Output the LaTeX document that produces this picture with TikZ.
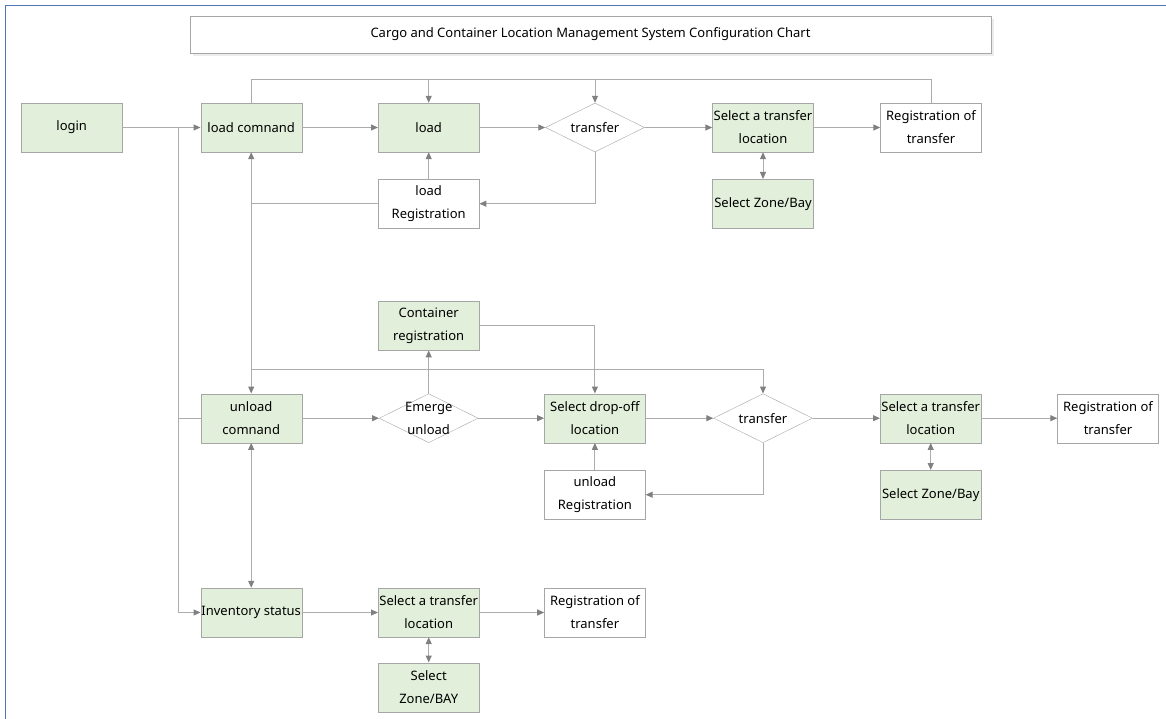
\documentclass[tikz,border=0pt]{standalone}
\usepackage{fontspec}
\setmainfont{Noto Sans}
\usetikzlibrary{arrows.meta,shapes.geometric,shadows}
\definecolor{boxgreen}{RGB}{226,239,218}
\definecolor{boxline}{RGB}{166,166,166}
\definecolor{wiregray}{RGB}{172,172,172}
\definecolor{tipgray}{RGB}{128,128,128}
\definecolor{frameblue}{RGB}{79,118,176}
\newcommand\chartfont{\fontsize{13}{23}\selectfont}
\tikzset{
    block/.style={
           rectangle,
           draw=boxline, fill=boxgreen,
           minimum width=101pt, minimum height=49pt,
           inner sep=0.5pt,
           align=center,
           font=\chartfont,
           },
    plainblock/.style={block, fill=white},
    choice/.style={
           diamond,
           draw=boxline, fill=white,
           minimum width=99pt, minimum height=49pt,
           inner sep=0pt,
           label={[font=\chartfont, align=center]center:#1},
           },
    wire/.style={draw=wiregray, line width=1pt},
}

\begin{document}
\begin{tikzpicture}[x=1pt, y=-1pt, >={Triangle[length=7pt,width=6pt,color=tipgray]}]
\useasboundingbox (0,0) rectangle (1166,719);
\draw[frameblue, line width=1.2pt] (5.3,719) -- (5.3,5.3) -- (1166,5.3);
\node[draw=boxline, fill=white, minimum width=801pt, minimum height=37pt,
      drop shadow={shadow xshift=3pt, shadow yshift=-3pt, opacity=0.15},
      font=\fontsize{13}{15}\selectfont] (title) at (590.5,34.5)
      {Cargo and Container Location Management System Configuration Chart};
\node[block] (login) at (71.7,127.5) {login};
\node[block] (lcmd) at (251.2,127.5) {load comnand};
\node[block] (load) at (428.7,127.5) {load};
\node[choice=transfer] (tr1) at (595,127.5) {};
\node[block] (sel1) at (763,127.5) {Select a transfer\\location};
\node[plainblock] (reg1) at (931,127.5) {Registration of\\transfer};
\node[plainblock] (lreg) at (428.7,203.7) {load\\Registration};
\node[block] (zone1) at (763,203.7) {Select Zone/Bay};
\node[block] (creg) at (428.7,325.7) {Container\\registration};
\node[block] (ucmd) at (251.2,418.2) {unload\\comnand};
\node[choice={Emerge\\unload}] (emg) at (428.7,418.2) {};
\node[block] (drop) at (594.9,418.2) {Select drop-off\\location};
\node[choice=transfer] (tr2) at (763,418.2) {};
\node[block] (sel2) at (930.7,418.2) {Select a transfer\\location};
\node[plainblock] (reg2) at (1108,418.2) {Registration of\\transfer};
\node[plainblock] (ureg) at (594.9,494.7) {unload\\Registration};
\node[block] (zone2) at (930.7,494.7) {Select Zone/Bay};
\node[block] (inv) at (251.2,612.5) {Inventory status};
\node[block] (sel3) at (428.7,612.5) {Select a transfer\\location};
\node[plainblock] (reg3) at (594.9,612.5) {Registration of\\transfer};
\node[block] (zone3) at (428.7,687.2) {Select\\Zone/BAY};
\coordinate (bus) at (178.3,127.5);
\coordinate (loop) at (0,79.3);
\coordinate (mid) at (0,369.3);
\path (login) edge[wire,->] (lcmd)
      (lcmd) edge[wire,->] (load)
      (load) edge[wire,->] (tr1)
      (tr1) edge[wire,->] (sel1)
      (sel1) edge[wire,->] (reg1);
\draw[wire,->] (bus) |- (inv);
\draw[wire] (bus |- ucmd) -- (ucmd);
\draw[wire] (lcmd.north) |- (reg1.north |- loop) -- (reg1.north);
\draw[wire,->] (load.north |- loop) -- (load.north);
\draw[wire,->] (tr1.north |- loop) -- (tr1.north);
\draw[wire,->] (tr1.south) |- (lreg.east);
\draw[wire,->] (lreg) -- (load);
\draw[wire] (lreg.west) -- (lcmd.south |- lreg.west);
\draw[wire,<->] (sel1) -- (zone1);
\draw[wire,<->] (lcmd) -- (ucmd);
\draw[wire,->] (ucmd.north |- mid) -| (tr2.north);
\path (ucmd) edge[wire,->] (emg)
      (emg) edge[wire,->] (drop)
      (drop) edge[wire,->] (tr2)
      (tr2) edge[wire,->] (sel2)
      (sel2) edge[wire,->] (reg2);
\draw[wire,->] (emg) -- (creg);
\draw[wire,->] (creg.east) -| (drop.north);
\draw[wire,->] (tr2.south) |- (ureg.east);
\draw[wire,->] (ureg) -- (drop);
\draw[wire,<->] (sel2) -- (zone2);
\draw[wire,<->] (ucmd) -- (inv);
\path (inv) edge[wire,->] (sel3)
      (sel3) edge[wire,->] (reg3);
\draw[wire,<->] (sel3) -- (zone3);
\end{tikzpicture}
\end{document}
